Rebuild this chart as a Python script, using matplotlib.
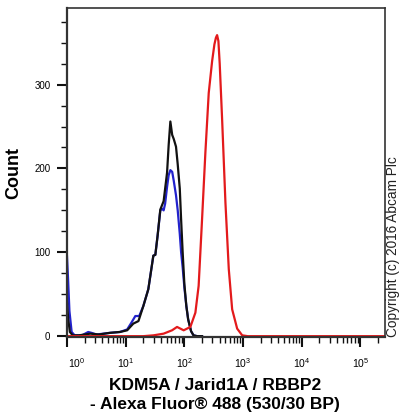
import matplotlib
matplotlib.use("Agg")
import matplotlib.pyplot as plt
import matplotlib.transforms as mtransforms
from matplotlib.ticker import LogLocator, NullFormatter, MultipleLocator

plt.rcParams['font.family'] = ['Liberation Sans', 'DejaVu Sans']
plt.rcParams['mathtext.default'] = 'regular'

# Histogram traces (intensity, count)
blue_x = [1.0, 1.04, 1.1, 1.2, 1.35, 1.8, 2.3, 2.6, 3.2, 5.46, 8, 10.6, 12.5, 14.6, 17,
          20, 24.3, 29.6, 32, 35, 38.9, 42, 44.3, 47, 50.7, 54, 57.7, 62, 66, 72, 77, 83.5,
          88, 93.5, 100, 108, 116, 130, 143, 165, 200]
blue_y = [95, 70, 30, 5, 1, 1, 5, 4, 2, 4, 5, 8, 16, 24, 24,
          36, 56, 96, 97, 120, 150, 152, 150, 158, 178, 192, 198, 196, 185, 168, 150, 122,
          100, 82, 58, 36, 20, 6, 1, 0, 0]

black_x = [1.0, 1.05, 1.12, 1.25, 1.6, 2.49, 3.5, 5.46, 8, 10.6, 13.5, 16.5, 20, 24.3,
           29.6, 32, 35, 38.9, 44.3, 50.7, 54, 57.7, 62, 66, 72, 77, 83.5, 88, 93.5, 100,
           108, 116, 130, 143, 165, 200]
black_y = [40, 20, 5, 1, 1, 3, 2, 4, 5, 7, 15, 18, 36, 56,
           96, 97, 120, 151, 161, 195, 228, 256, 240, 235, 226, 205, 176, 139, 100, 62,
           36, 20, 6, 1, 0, 0]

red_x = [1.0, 20, 29.9, 44.3, 61.7, 75, 97.3, 126.5, 154, 175, 200, 228, 260, 297, 325,
         345, 361, 380, 400, 440, 501, 571, 652, 793, 966, 1200, 262144]
red_y = [0, 0, 1, 3, 7, 11, 7, 11, 28, 60, 139, 219, 290, 328, 348,
         356, 359, 352, 325, 258, 159, 80, 32, 9, 1, 0, 0]

x_ticks = [1, 10, 100, 1000, 10000, 100000]
x_labels = ['$10^{0}$', '$10^{1}$', '$10^{2}$', '$10^{3}$', '$10^{4}$', '$10^{5}$']
y_ticks = [0, 100, 200, 300]

fig = plt.figure(figsize=(4.0, 4.19), dpi=100)
ax = fig.add_axes([0.1675, 0.1957, 0.795, 0.7845])

ax.plot(blue_x, blue_y, color='#2222cc', lw=1.6)
ax.plot(black_x, black_y, color='#111111', lw=1.6)
ax.plot(red_x, red_y, color='#e31a1c', lw=1.6)

ax.set_xscale('log')
ax.set_xlim(1, 262144)
ax.set_ylim(-1, 391)

ax.set_xticks(x_ticks)
ax.set_xticklabels(x_labels)
ax.xaxis.set_minor_locator(LogLocator(base=10, subs=range(2, 10), numticks=20))
ax.xaxis.set_minor_formatter(NullFormatter())
ax.set_yticks(y_ticks)
ax.yaxis.set_minor_locator(MultipleLocator(25))

ax.tick_params(axis='both', which='major', direction='out', length=7, width=1.5,
               labelsize=7, color='#111111')
ax.tick_params(axis='x', which='major', labelsize=7.5, pad=7)
ax.tick_params(axis='both', which='minor', direction='out', length=4, width=1.0,
               color='#111111')
ax.tick_params(axis='y', which='major', pad=5)

for s in ax.spines.values():
    s.set_color('#333333')
    s.set_linewidth(1.2)
ax.spines['left'].set_linewidth(1.6)
ax.spines['bottom'].set_linewidth(1.6)

# first decade label sits a little right of its tick
lbl0 = ax.get_xticklabels()[0]
lbl0.set_transform(lbl0.get_transform() + mtransforms.ScaledTranslation(10 / 100, 0, fig.dpi_scale_trans))

fig.text(14 / 400, 0.588, 'Count', rotation=90, ha='center', va='center',
         fontsize=13, fontweight='bold')
fig.text(215 / 400, 1 - 395 / 419, 'KDM5A / Jarid1A / RBBP2\n- Alexa Fluor® 488 (530/30 BP)',
         ha='center', va='center', fontsize=12.5, fontweight='bold', linespacing=1.3)
fig.text(393 / 400, 1 - 247 / 419, 'Copyright (c) 2016 Abcam Plc', rotation=90,
         ha='center', va='center', fontsize=9.8, color='#222222')

fig.savefig('out.png', dpi=100)
